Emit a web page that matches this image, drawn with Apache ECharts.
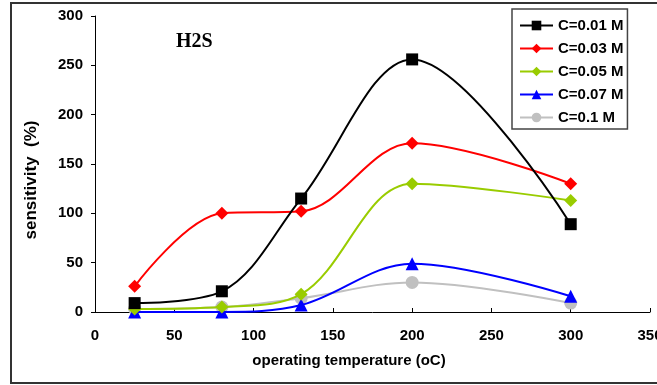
<!DOCTYPE html>
<html>
<head>
<meta charset="utf-8">
<script src="https://cdn.jsdelivr.net/npm/echarts@6/dist/echarts.min.js"></script>
<style>
  html, body { margin: 0; padding: 0; background: #fff; }
  #chart { width: 657px; height: 385px; }
</style>
</head>
<body>
<div id="chart"></div>
<script>
// operating temperature (oC)
const temps = [25, 80, 130, 200, 300];
const names = ["C=0.01 M", "C=0.03 M", "C=0.05 M", "C=0.07 M", "C=0.1 M"];
const c001 = [9, 21, 115, 256, 89];
const c003 = [26, 100, 102, 171, 130];
const c005 = [3, 5, 18, 130, 113];
const c007 = [0, 0, 7, 49, 16];
const c01 = [3, 5, 14, 30, 9];
const colors = ["#000000", "#ff0000", "#99cc00", "#0000ff", "#c0c0c0"];
const symbols = ["rect", "diamond", "diamond", "triangle", "circle"];

const allValues = [c001, c003, c005, c007, c01];

let mychart = echarts.init(document.getElementById("chart"));

const labelFont = {
  fontFamily: "Liberation Sans, Arial",
  fontWeight: "bold",
  fontSize: 15,
  color: "#000"
};

let option = {
  animation: false,
  color: colors,
  title: {
    text: "H2S",
    left: 171,
    top: 27,
    textStyle: {
      fontFamily: "Liberation Serif, Times New Roman",
      fontWeight: "bold",
      fontSize: 20,
      color: "#000"
    }
  },
  graphic: [
    {
      type: "rect",
      shape: { x: 11, y: 3, width: 660, height: 380 },
      style: { fill: null, stroke: "#333", lineWidth: 2 },
      silent: true
    },
    {
      type: "text",
      x: 349,
      y: 361,
      style: {
        text: "operating temperature (oC)",
        font: "bold 15px 'Liberation Sans', Arial",
        fill: "#000",
        align: "center",
        verticalAlign: "middle"
      }
    },
    {
      type: "text",
      x: 31,
      y: 180,
      rotation: Math.PI / 2,
      style: {
        text: "sensitivity  (%)",
        font: "bold 17px 'Liberation Sans', Arial",
        fill: "#000",
        align: "center",
        verticalAlign: "middle"
      }
    }
  ],
  legend: {
    orient: "vertical",
    left: 512,
    top: 9,
    padding: [9, 4, 4, 7],
    itemGap: 8,
    itemWidth: 33,
    itemHeight: 12,
    borderColor: "#444",
    borderWidth: 1.5,
    backgroundColor: "#fff",
    textStyle: {
      fontFamily: "Liberation Sans, Arial",
      fontWeight: "bold",
      fontSize: 15,
      color: "#000"
    },
    data: names
  },
  grid: {
    left: 95,
    top: 16,
    right: 7,
    bottom: 73,
    containLabel: false,
    outerBoundsMode: "none"
  },
  xAxis: {
    type: "value",
    min: 0,
    max: 350,
    interval: 50,
    axisLine: { lineStyle: { color: "#000", width: 1 } },
    axisTick: { inside: true, length: 4, lineStyle: { color: "#000" } },
    splitLine: { show: false },
    axisLabel: Object.assign({ margin: 16 }, labelFont)
  },
  yAxis: {
    type: "value",
    min: 0,
    max: 300,
    interval: 50,
    axisLine: { show: true, lineStyle: { color: "#000", width: 1 } },
    axisTick: { show: true, length: 4, lineStyle: { color: "#000" } },
    splitLine: { show: false },
    axisLabel: Object.assign({ margin: 12 }, labelFont)
  },
  series: names.map(function (n, i) {
    return {
      name: n,
      type: "line",
      smooth: 0.35,
      symbol: symbols[i],
      symbolSize: i === 0 ? 12 : 13,
      lineStyle: { width: 2, color: colors[i] },
      itemStyle: { color: colors[i] },
      z: 10 - i,
      data: temps.map(function (t, k) {
        return [t, allValues[i][k]];
      })
    };
  })
};
mychart.setOption(option);
</script>
</body>
</html>
